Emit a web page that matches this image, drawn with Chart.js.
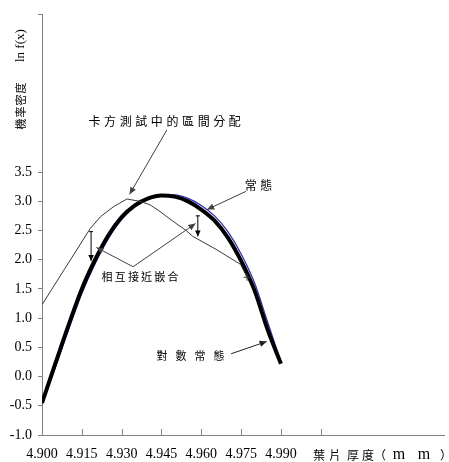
<!DOCTYPE html>
<html>
<head>
<meta charset="utf-8">
<script src="https://cdn.jsdelivr.net/npm/chart.js@4/dist/chart.umd.min.js"></script>
<style>
  html, body { margin: 0; padding: 0; background: #fff; }
  canvas { display: block; }
</style>
</head>
<body>
<canvas id="c" width="449" height="462"></canvas>
<script>
// Leaf thickness (mm) sample points for the fitted density curves
const thickness = [4.900, 4.905, 4.910, 4.915, 4.920, 4.925, 4.930, 4.935, 4.940, 4.945,
                   4.950, 4.955, 4.960, 4.965, 4.970, 4.975, 4.980, 4.985, 4.990];
// ln f(x) of the log-normal fit
const logNormal = [-0.45, 0.22, 0.88, 1.50, 2.00, 2.42, 2.73, 2.93, 3.05, 3.10,
                   3.08, 3.00, 2.86, 2.67, 2.38, 1.98, 1.48, 0.80, 0.22];
// ln f(x) of the normal fit
const normal    = [-0.48, 0.15, 0.80, 1.42, 1.93, 2.36, 2.69, 2.91, 3.04, 3.11,
                   3.11, 3.05, 2.93, 2.75, 2.48, 2.10, 1.61, 0.93, 0.25];
// Interval distribution used in the chi-square test
const chiX = [4.900, 4.9181, 4.9221, 4.9270, 4.9320, 4.9369, 4.9407, 4.9440, 4.9493, 4.9543, 4.9568, 4.9655, 4.9748, 4.9772];
const chiY = [1.23, 2.53, 2.74, 2.91, 3.04, 3.00, 2.94, 2.84, 2.66, 2.50, 2.40, 2.18, 1.92, 1.70];

// Axis ticks
const xTickValues = [4.900, 4.915, 4.930, 4.945, 4.960, 4.975, 4.990, 5.005];
const xTickLabels = ['4.900', '4.915', '4.930', '4.945', '4.960', '4.975', '4.990', ''];
const yTickValues = [-1.0, -0.5, 0.0, 0.5, 1.0, 1.5, 2.0, 2.5, 3.0, 3.5];
const X_MIN = 4.900, X_MAX = 5.0514, Y_MIN = -1.0, Y_MAX = 6.2;

const pts = (xs, ys) => xs.map((x, i) => ({ x: x, y: ys[i] }));

const CJK = '"Noto Sans CJK TC", "Noto Sans CJK SC", sans-serif';
const SERIF = '"Liberation Serif", "DejaVu Serif", serif';

function drawSpaced(ctx, text, cx, cy, pitch, font) {
  const chars = Array.from(text);
  ctx.font = font;
  ctx.textAlign = 'center';
  ctx.textBaseline = 'middle';
  const start = cx - pitch * (chars.length - 1) / 2;
  chars.forEach((ch, i) => ctx.fillText(ch, start + i * pitch, cy));
}

function head(ctx, x1, y1, x2, y2, len, w) {
  const a = Math.atan2(y2 - y1, x2 - x1);
  ctx.beginPath();
  ctx.moveTo(x2, y2);
  ctx.lineTo(x2 - len * Math.cos(a) + w * Math.sin(a), y2 - len * Math.sin(a) - w * Math.cos(a));
  ctx.lineTo(x2 - len * Math.cos(a) - w * Math.sin(a), y2 - len * Math.sin(a) + w * Math.cos(a));
  ctx.closePath();
  ctx.fill();
}

function arrow(ctx, a, b, color) {
  ctx.strokeStyle = color; ctx.fillStyle = color; ctx.lineWidth = 1;
  ctx.beginPath(); ctx.moveTo(a[0], a[1]); ctx.lineTo(b[0], b[1]); ctx.stroke();
  head(ctx, a[0], a[1], b[0], b[1], 7, 3.2);
}

function capArrow(ctx, top, bottom) {
  ctx.strokeStyle = '#000'; ctx.fillStyle = '#000'; ctx.lineWidth = 1;
  ctx.beginPath();
  ctx.moveTo(top[0] + 0.5, top[1]); ctx.lineTo(bottom[0] + 0.5, bottom[1]);
  ctx.moveTo(top[0] - 1.5, top[1] + 0.5); ctx.lineTo(top[0] + 2.5, top[1] + 0.5);
  ctx.stroke();
  head(ctx, top[0] + 0.5, top[1], bottom[0] + 0.5, bottom[1], 6, 2.8);
}

const decorations = {
  id: 'decorations',
  afterDatasetsDraw(chart) {
    const ctx = chart.ctx;
    const xs = chart.scales.x, ys = chart.scales.y;
    const P = (xv, yv) => [xs.getPixelForValue(xv), ys.getPixelForValue(yv)];
    const area = chart.chartArea;
    ctx.save();

    // inward tick marks on the thickness axis
    ctx.strokeStyle = '#808080'; ctx.lineWidth = 1;
    xTickValues.forEach(v => {
      const px = Math.round(xs.getPixelForValue(v)) + 0.5;
      ctx.beginPath(); ctx.moveTo(px, area.bottom); ctx.lineTo(px, area.bottom - 6); ctx.stroke();
    });

    // callouts
    ctx.fillStyle = '#000';
    drawSpaced(ctx, '卡方測試中的區間分配', P(4.9462, 0)[0], P(0, 4.36)[1], 15.6, '12px ' + CJK);
    arrow(ctx, P(4.9470, 4.22), P(4.9330, 3.12), '#404040');

    ctx.fillStyle = '#000';
    drawSpaced(ctx, '常態', P(4.9815, 0)[0], P(0, 3.27)[1], 15.5, '12px ' + CJK);
    arrow(ctx, P(4.9768, 3.17), P(4.9622, 2.86), '#404040');

    ctx.fillStyle = '#000';
    drawSpaced(ctx, '相互接近嵌合', P(4.9369, 0)[0], P(0, 1.70)[1], 13.2, '11px ' + CJK);
    const apex = P(4.9343, 1.88);
    arrow(ctx, apex, P(4.9205, 2.21), '#404040');
    arrow(ctx, apex, P(4.9578, 2.62), '#404040');
    capArrow(ctx, P(4.9183, 2.49), P(4.9183, 1.98));
    capArrow(ctx, P(4.9585, 2.76), P(4.9585, 2.40));

    ctx.fillStyle = '#000';
    drawSpaced(ctx, '對數常態', P(4.9559, 0)[0], P(0, 0.355)[1], 19, '11px ' + CJK);
    arrow(ctx, P(4.9712, 0.39), P(4.9846, 0.60), '#202020');

    // axis titles
    ctx.fillStyle = '#000';
    ctx.textBaseline = 'middle'; ctx.textAlign = 'center';
    const ty = 455;
    ctx.font = '12px ' + CJK;
    [['葉', 319], ['片', 335], ['厚', 353], ['度', 368], ['（', 380], ['）', 446]]
      .forEach(([c, x]) => ctx.fillText(c, x, ty));
    ctx.font = '16px ' + SERIF;
    ctx.fillText('m', 399, ty);
    ctx.fillText('m', 424, ty);

    ctx.save();
    ctx.translate(21, 130);
    ctx.rotate(-Math.PI / 2);
    ctx.textAlign = 'center'; ctx.textBaseline = 'middle';
    ctx.font = '11px ' + CJK;
    ['機', '率', '密', '度'].forEach((c, i) => ctx.fillText(c, 6 + i * 12, 0));
    ctx.textAlign = 'left';
    ctx.font = '13px ' + SERIF;
    ctx.fillText('ln f(x)', 68, 0);
    ctx.restore();

    ctx.restore();
  }
};

new Chart(document.getElementById('c'), {
  type: 'line',
  data: {
    datasets: [
      {
        label: '卡方測試中的區間分配',
        data: pts(chiX, chiY),
        borderColor: '#3a3a3a',
        borderWidth: 1,
        tension: 0,
        pointRadius: ctx => ctx.dataIndex === chiX.length - 1 ? 3.5 : 0,
        pointStyle: 'cross',
        pointBorderColor: '#3a3a3a',
        pointBorderWidth: 1
      },
      {
        label: '對數常態',
        data: pts(thickness, logNormal),
        borderColor: '#000',
        borderWidth: 4,
        cubicInterpolationMode: 'monotone',
        pointRadius: 0,
        borderCapStyle: 'butt'
      },
      {
        label: '常態',
        data: pts(thickness, normal),
        borderColor: '#2828b0',
        borderWidth: 1.2,
        cubicInterpolationMode: 'monotone',
        pointRadius: 0
      }
    ]
  },
  options: {
    responsive: false,
    animation: false,
    devicePixelRatio: 1,
    layout: { padding: { top: 13, right: 0, left: 0, bottom: 0 } },
    plugins: { legend: { display: false }, tooltip: { enabled: false } },
    scales: {
      x: {
        type: 'linear',
        min: X_MIN, max: X_MAX,
        afterBuildTicks: s => { s.ticks = xTickValues.map(v => ({ value: v })); },
        afterFit: s => { s.height = 27; },
        ticks: {
          autoSkip: false,
          maxRotation: 0,
          padding: 11,
          color: '#000',
          font: { family: SERIF, size: 14 },
          callback: (v, i) => xTickLabels[i]
        },
        grid: { display: false, drawTicks: false },
        border: { display: true, color: '#808080', width: 1 }
      },
      y: {
        min: Y_MIN, max: Y_MAX,
        afterBuildTicks: s => { s.ticks = yTickValues.concat([Y_MAX]).map(v => ({ value: v })); },
        afterFit: s => { s.width = 42; },
        ticks: {
          autoSkip: false,
          padding: 6,
          color: '#000',
          font: { family: SERIF, size: 14 },
          callback: (v, i) => i < yTickValues.length ? yTickValues[i].toFixed(1) : ''
        },
        grid: { drawOnChartArea: false, drawTicks: true, tickLength: 4, color: '#808080' },
        border: { display: true, color: '#808080', width: 1 }
      }
    }
  },
  plugins: [decorations]
});
</script>
</body>
</html>
